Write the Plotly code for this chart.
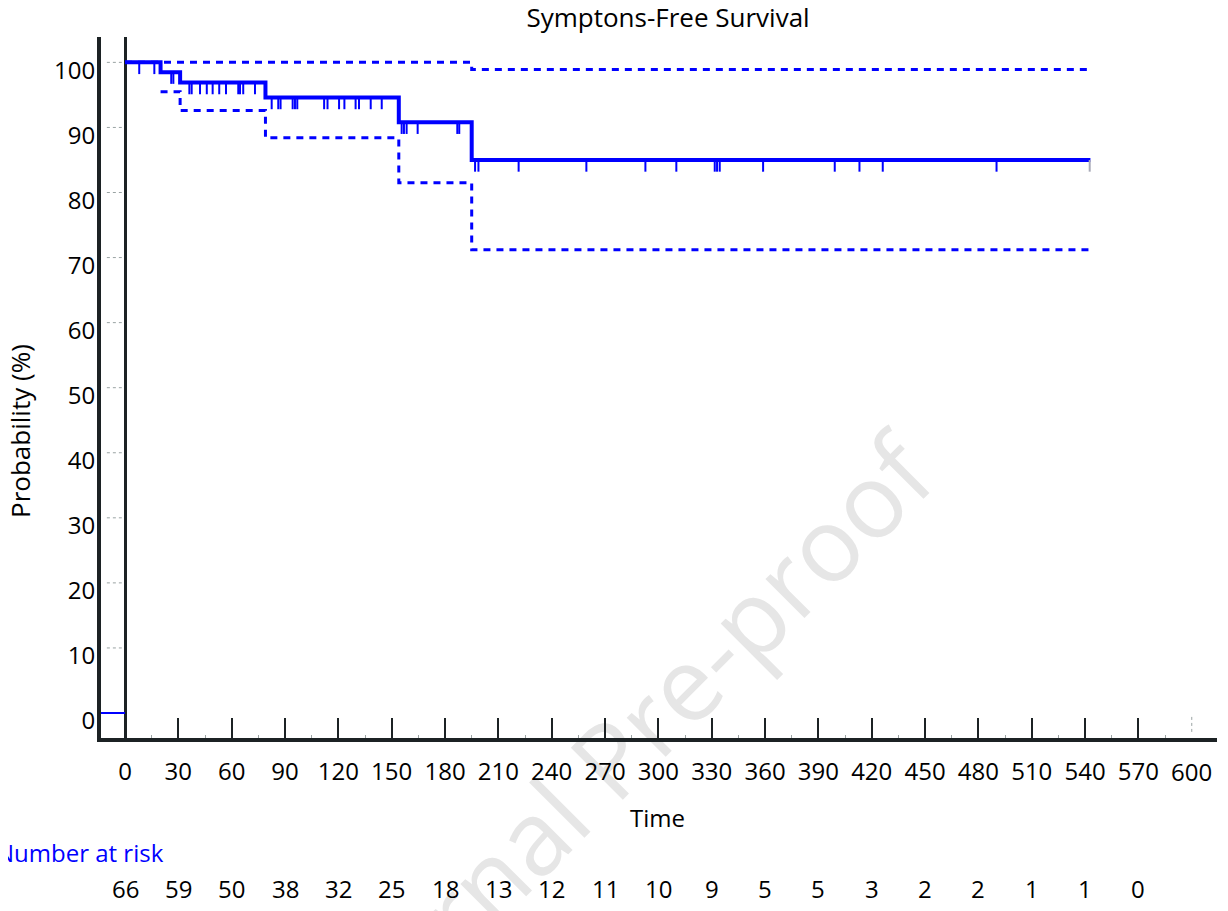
import plotly.graph_objects as go

# ---------------- data ----------------
km_times = [0, 20, 31, 79, 154, 195]
km_surv = [100, 98.5, 96.9, 94.6, 90.8, 85.0]
end_time = 543

upper_times = [0, 195]
upper_ci = [100, 98.9]
lower_times = [20, 31, 79, 154, 195]
lower_ci = [95.5, 92.6, 88.4, 81.5, 71.2]

censor_times = [8, 16.5, 26, 27.2, 36.2, 37.5, 42.2, 46, 49.3, 53, 56.8, 63.7, 64.7, 66.5, 73.1,
                82.5, 86.2, 87.5, 94.3, 95.6, 96.9, 112, 113.9, 120.4, 123.4, 129.7, 131.6, 138.2, 144.4,
                155.6, 156.9, 158.4, 164.6, 186.9, 188,
                196.9, 198.8, 221.4, 259.5, 292.7, 310.1, 331.7, 333, 334.5, 358.9, 399.2, 413.1, 426.2, 490.2]
last_censor = 542.6

risk_times = list(range(0, 600, 30))
risk_counts = [66, 59, 50, 38, 32, 25, 18, 13, 12, 11, 10, 9, 5, 5, 3, 2, 2, 1, 1, 0]

x_ticks = list(range(0, 571, 30))
x_last_tick = 600
y_ticks = list(range(0, 101, 10))

BLUE = "#0000ff"
AXC = "#1c2224"
FONT = "Open Sans"


def level_at(t):
    lv = km_surv[0]
    for tt, s in zip(km_times, km_surv):
        if t >= tt:
            lv = s
    return lv


fig = go.Figure()

# faint dotted y marks between axis and zero line
ym_x, ym_y = [], []
for v in y_ticks:
    ym_x += [-10.2, -1.8, None]
    ym_y += [v, v, None]
fig.add_trace(go.Scatter(x=ym_x, y=ym_y, mode="lines",
                         line=dict(color="#9aa3a3", width=1, dash="dot"),
                         hoverinfo="skip", showlegend=False))

# dotted tick at the last x value
fig.add_trace(go.Scatter(x=[x_last_tick, x_last_tick], y=[-0.6, -3.0], mode="lines",
                         line=dict(color="#9aa3a3", width=1, dash="dot"),
                         hoverinfo="skip", showlegend=False, cliponaxis=False))

# blue segment at 0 left of origin
fig.add_trace(go.Scatter(x=[-13.5, 0], y=[0, 0], mode="lines",
                         line=dict(color=BLUE, width=2), hoverinfo="skip", showlegend=False))

# confidence bands
fig.add_trace(go.Scatter(x=upper_times + [end_time], y=upper_ci + [upper_ci[-1]],
                         mode="lines", line=dict(color=BLUE, width=3, dash="7px,6px", shape="hv"),
                         showlegend=False))
fig.add_trace(go.Scatter(x=lower_times + [end_time], y=lower_ci + [lower_ci[-1]],
                         mode="lines", line=dict(color=BLUE, width=3, dash="7px,6px", shape="hv"),
                         showlegend=False))

# KM curve
fig.add_trace(go.Scatter(x=km_times + [end_time], y=km_surv + [km_surv[-1]],
                         mode="lines", line=dict(color=BLUE, width=4, shape="hv"),
                         showlegend=False))

# censor marks
cx, cy = [], []
for t in censor_times:
    lv = level_at(t)
    cx += [t, t, None]
    cy += [lv, lv - 1.8, None]
fig.add_trace(go.Scatter(x=cx, y=cy, mode="lines", line=dict(color=BLUE, width=2),
                         hoverinfo="skip", showlegend=False))
lv = level_at(last_censor)
fig.add_trace(go.Scatter(x=[last_censor, last_censor], y=[lv, lv - 1.8], mode="lines",
                         line=dict(color="#a8aab8", width=2), hoverinfo="skip", showlegend=False))

annotations = []
annotations.append(dict(text="Probability (%)", xref="paper", yref="paper", x=-0.0726, y=0.438,
                        textangle=-90, showarrow=False, xanchor="center", yanchor="middle",
                        font=dict(family=FONT, size=26, color="black")))
annotations.append(dict(text="Time", xref="paper", yref="paper", x=0.499, y=-0.114,
                        showarrow=False, xanchor="center", yanchor="middle",
                        font=dict(family=FONT, size=24, color="black")))
annotations.append(dict(text="Number at risk", xref="paper", yref="paper", x=0.0585, y=-0.164,
                        showarrow=False, xanchor="right", yanchor="middle",
                        font=dict(family=FONT, size=24, color=BLUE)))
annotations.append(dict(text=str(x_last_tick), xref="x", yref="paper", x=x_last_tick, y=-0.0485,
                        showarrow=False, xanchor="center", yanchor="middle",
                        font=dict(family=FONT, size=24, color="black")))
for t, n in zip(risk_times, risk_counts):
    annotations.append(dict(text=str(n), xref="x", yref="paper", x=t, y=-0.2154,
                            showarrow=False, xanchor="center", yanchor="middle",
                            font=dict(family=FONT, size=24, color="black")))

shapes = [dict(type="rect", xref="paper", yref="paper", x0=0.463, x1=0.475, y0=-0.024, y1=-0.014,
               line=dict(width=0), fillcolor="rgba(0,0,0,0)", layer="below",
               label=dict(text="Journal Pre-proof", textangle=-45, textposition="middle center",
                          font=dict(family=FONT, size=103, color="#e6e6e6")))]

fig.update_layout(
    width=1220, height=903,
    margin=dict(l=93, r=11, t=29, b=173),
    paper_bgcolor="white", plot_bgcolor="rgba(0,0,0,0)",
    title=dict(text="Symptons-Free Survival", x=0.541, xanchor="center", y=0.989, yanchor="middle",
               font=dict(family=FONT, size=26, color="black")),
    showlegend=False,
    annotations=annotations,
    shapes=shapes,
    xaxis=dict(range=[-13.5, 614.2], showgrid=False, zeroline=True, zerolinecolor=AXC, zerolinewidth=3,
               showline=True, linecolor=AXC, linewidth=4,
               tickmode="array", tickvals=x_ticks, ticktext=[str(v) for v in x_ticks],
               ticks="inside", ticklen=20, tickwidth=2, tickcolor=AXC,
               ticklabelstandoff=9,
               minor=dict(tickmode="array", tickvals=list(range(15, 600, 30)), ticks="inside",
                          ticklen=3, tickwidth=1, tickcolor="#9aa3a3"),
               tickfont=dict(family=FONT, size=24, color="black"), layer="above traces"),
    yaxis=dict(range=[-3.84, 103.9], showgrid=False, zeroline=False,
               showline=True, linecolor=AXC, linewidth=4,
               tickmode="array", tickvals=y_ticks, ticktext=[str(v) for v in y_ticks],
               ticks="", ticklabelshift=8, ticklabelstandoff=-3,
               tickfont=dict(family=FONT, size=24, color="black")),
)

fig.write_html("out.html")
